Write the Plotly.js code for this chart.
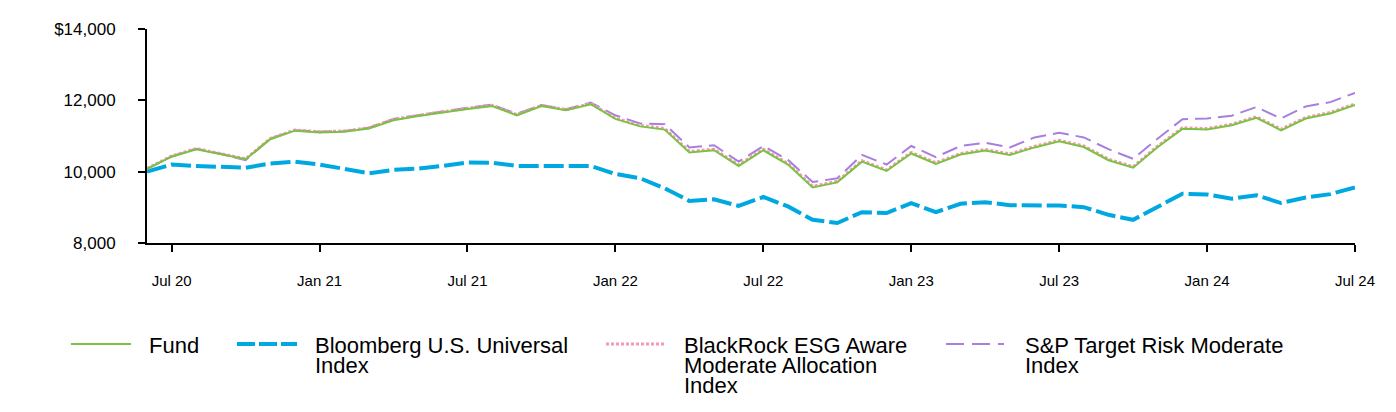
<!DOCTYPE html>
<html>
<head>
<meta charset="utf-8">
<script src="https://cdn.plot.ly/plotly-3.0.1.min.js"></script>
<style>
html,body{margin:0;padding:0;background:#fff;}
#chart{width:1396px;height:412px;}
</style>
</head>
<body>
<div id="chart"></div>
<script>
var months = ["Jun 20","Jul 20","Aug 20","Sep 20","Oct 20","Nov 20","Dec 20",
  "Jan 21","Feb 21","Mar 21","Apr 21","May 21","Jun 21","Jul 21","Aug 21","Sep 21","Oct 21","Nov 21","Dec 21",
  "Jan 22","Feb 22","Mar 22","Apr 22","May 22","Jun 22","Jul 22","Aug 22","Sep 22","Oct 22","Nov 22","Dec 22",
  "Jan 23","Feb 23","Mar 23","Apr 23","May 23","Jun 23","Jul 23","Aug 23","Sep 23","Oct 23","Nov 23","Dec 23",
  "Jan 24","Feb 24","Mar 24","Apr 24","May 24","Jun 24","Jul 24"];

var fund = [10080,10420,10630,10490,10350,10910,11150,
  11100,11120,11210,11440,11560,11670,11760,11840,11580,11840,11720,11890,
  11480,11270,11180,10540,10600,10160,10600,10200,9560,9700,10280,10020,
  10510,10220,10480,10590,10470,10680,10855,10690,10320,10110,10690,11200,
  11180,11300,11510,11160,11490,11630,11870];

var bloomberg = [10000,10200,10160,10140,10110,10230,10280,
  10200,10075,9955,10050,10085,10160,10255,10250,10160,10160,10160,10160,
  9935,9815,9535,9180,9225,9040,9290,9025,8650,8560,8865,8840,
  9120,8865,9100,9145,9060,9050,9050,9005,8790,8650,9025,9380,
  9360,9240,9340,9120,9275,9370,9560];

var blackrock = [10090,10440,10650,10510,10360,10930,11170,
  11120,11140,11230,11470,11580,11690,11780,11860,11600,11860,11740,11910,
  11500,11300,11210,10570,10630,10190,10630,10230,9590,9730,10310,10050,
  10540,10250,10510,10620,10500,10710,10880,10720,10350,10140,10720,11230,
  11210,11330,11540,11190,11520,11660,11900];

var spTarget = [10080,10430,10640,10500,10320,10930,11160,
  11120,11140,11230,11480,11590,11690,11790,11880,11620,11870,11750,11940,
  11580,11350,11330,10680,10740,10280,10720,10330,9710,9815,10470,10200,
  10720,10410,10720,10810,10680,10960,11090,10960,10630,10360,10930,11470,
  11490,11570,11810,11490,11830,11950,12210];

var xTickVals = ["Jul 20","Jan 21","Jul 21","Jan 22","Jul 22","Jan 23","Jul 23","Jan 24","Jul 24"];
var yTickVals = [8000,10000,12000,14000];
var yTickText = ["8,000","10,000","12,000","$14,000"];

var seriesNames = ["Fund","Bloomberg U.S. Universal Index","BlackRock ESG Aware Moderate Allocation Index","S&P Target Risk Moderate Index"];
var legendLines = [["Fund"],["Bloomberg U.S. Universal","Index"],["BlackRock ESG Aware","Moderate Allocation","Index"],["S&P Target Risk Moderate","Index"]];

var cGreen = "#7cc242", cBlue = "#00a8e1", cPink = "#f59ab2", cPurple = "#a77fdf";
var FONT = "Liberation Sans, Arial, Helvetica, sans-serif";

var traces = [
  {x: months, y: bloomberg, name: seriesNames[1], type: "scatter", mode: "lines",
   line: {color: cBlue, width: 4, dash: "20px,5px"}},
  {x: months, y: spTarget, name: seriesNames[3], type: "scatter", mode: "lines",
   line: {color: cPurple, width: 2, dash: "16px,7px"}},
  {x: months, y: blackrock, name: seriesNames[2], type: "scatter", mode: "lines",
   line: {color: cPink, width: 3, dash: "3px,2px"}},
  {x: months, y: fund, name: seriesNames[0], type: "scatter", mode: "lines",
   line: {color: cGreen, width: 2}}
];

// pixel -> paper helpers for legend placement
var L = 147, R = 1355, T = 29, B = 243;
function px(x){ return (x - L) / (R - L); }
function py(y){ return (B - y) / (B - T); }

var shapes = [];
var annotations = [];
var legItems = [
  {x0: 71, x1: 131, tx: 149, color: cGreen, width: 2, dash: "solid"},
  {x0: 237, x1: 297, tx: 315, color: cBlue, width: 4, dash: "18px,4px"},
  {x0: 606, x1: 664, tx: 684, color: cPink, width: 3, dash: "3px,2px"},
  {x0: 946, x1: 1004, tx: 1025, color: cPurple, width: 2, dash: "18px,8px"}
];
var lineY = 344;
legItems.forEach(function(it, i){
  shapes.push({type: "line", xref: "paper", yref: "paper",
    x0: px(it.x0), x1: px(it.x1), y0: py(lineY), y1: py(lineY),
    line: {color: it.color, width: it.width, dash: it.dash}});
  legendLines[i].forEach(function(t, j){
    annotations.push({xref: "paper", yref: "paper", x: px(it.tx - 1), y: py(345 + j*20),
      xanchor: "left", yanchor: "middle", showarrow: false, text: t,
      font: {family: FONT, size: 22, color: "#000"}, borderpad: 0});
  });
});

var layout = {
  width: 1396, height: 412,
  margin: {l: 147, r: 41, t: 29, b: 169},
  paper_bgcolor: "#fff", plot_bgcolor: "#fff",
  showlegend: false,
  font: {family: FONT, color: "#000"},
  xaxis: {
    type: "category", range: [0, months.length - 1],
    tickmode: "array", tickvals: xTickVals, ticktext: xTickVals,
    showgrid: false, zeroline: false,
    showline: true, linecolor: "#000", linewidth: 2,
    ticks: "outside", ticklen: 7, tickwidth: 2, tickcolor: "#000",
    ticklabelstandoff: 16,
    tickfont: {family: FONT, size: 15, color: "#000"}
  },
  yaxis: {
    range: [8000, 14000], tickmode: "array", tickvals: yTickVals, ticktext: yTickText,
    showgrid: false, zeroline: false,
    showline: true, linecolor: "#000", linewidth: 2,
    ticks: "outside", ticklen: 7, tickwidth: 2, tickcolor: "#000",
    ticklabelstandoff: 19,
    tickfont: {family: FONT, size: 17, color: "#000"}
  },
  shapes: shapes,
  annotations: annotations
};

Plotly.newPlot("chart", traces, layout, {displayModeBar: false, staticPlot: true});
</script>
</body>
</html>
